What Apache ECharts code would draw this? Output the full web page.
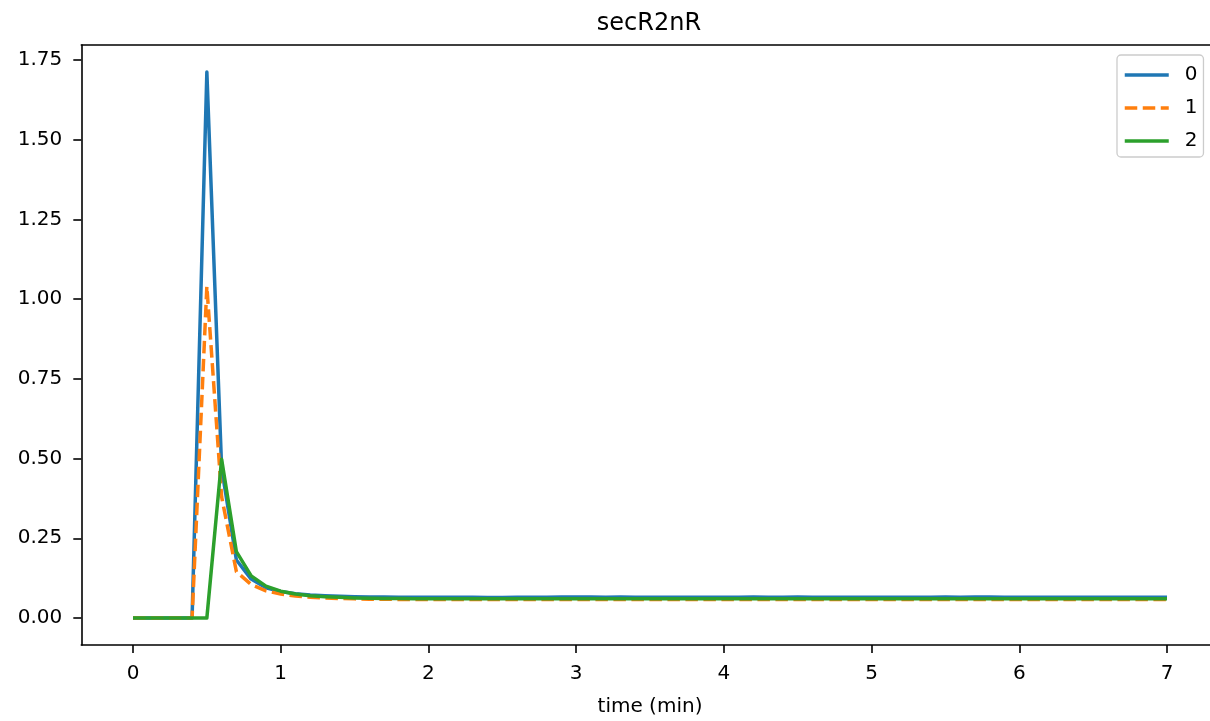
<!DOCTYPE html>
<html><head><meta charset="utf-8">
<script src="https://cdn.jsdelivr.net/npm/echarts@6/dist/echarts.min.js"></script>
<style>html,body{margin:0;padding:0;background:#fff}#c{width:1210px;height:721px}</style>
</head><body><div id="c"></div>
<script>
const chartTitle = 'secR2nR';
const xName = 'time (min)';
const seriesNames = ['0', '1', '2'];
const times = [0.0,0.1,0.2,0.3,0.4,0.5,0.6,0.7,0.8,0.9,
  1.0,1.1,1.2,1.3,1.4,1.5,1.6,1.7,1.8,1.9,
  2.0,2.1,2.2,2.3,2.4,2.5,2.6,2.7,2.8,2.9,
  3.0,3.1,3.2,3.3,3.4,3.5,3.6,3.7,3.8,3.9,
  4.0,4.1,4.2,4.3,4.4,4.5,4.6,4.7,4.8,4.9,
  5.0,5.1,5.2,5.3,5.4,5.5,5.6,5.7,5.8,5.9,
  6.0,6.1,6.2,6.3,6.4,6.5,6.6,6.7,6.8,6.9,
  7.0];
const s0 = [0,0,0,0,0,1.712,0.47,0.182,0.122,0.095,
  0.083,0.076,0.072,0.070,0.068,0.067,0.066,0.066,0.065,0.065,
  0.065,0.065,0.065,0.065,0.064,0.064,0.065,0.065,0.065,0.066,
  0.066,0.066,0.065,0.066,0.065,0.065,0.065,0.065,0.065,0.065,
  0.065,0.065,0.066,0.065,0.065,0.066,0.065,0.065,0.065,0.065,
  0.065,0.065,0.065,0.065,0.065,0.066,0.065,0.066,0.066,0.065,
  0.065,0.065,0.065,0.065,0.065,0.065,0.065,0.065,0.065,0.065,
  0.065];
const s1 = [0,0,0,0,0,1.04,0.38,0.145,0.105,0.085,
  0.075,0.069,0.065,0.063,0.061,0.060,0.059,0.059,0.058,0.058,
  0.058,0.058,0.058,0.058,0.058,0.058,0.058,0.058,0.058,0.058,
  0.058,0.058,0.058,0.058,0.058,0.058,0.058,0.058,0.058,0.058,
  0.058,0.058,0.058,0.058,0.058,0.058,0.058,0.058,0.058,0.058,
  0.058,0.058,0.058,0.058,0.058,0.058,0.058,0.058,0.058,0.058,
  0.058,0.058,0.058,0.058,0.058,0.058,0.058,0.058,0.058,0.058,
  0.058];
const s2 = [0,0,0,0,0,0,0.498,0.208,0.132,0.100,
  0.084,0.075,0.070,0.067,0.065,0.063,0.062,0.061,0.061,0.060,
  0.060,0.060,0.060,0.060,0.060,0.060,0.060,0.060,0.060,0.060,
  0.060,0.060,0.060,0.060,0.060,0.060,0.060,0.060,0.060,0.060,
  0.060,0.060,0.060,0.060,0.060,0.060,0.060,0.060,0.060,0.060,
  0.060,0.060,0.060,0.060,0.060,0.060,0.060,0.060,0.060,0.060,
  0.060,0.060,0.060,0.060,0.060,0.060,0.060,0.060,0.060,0.060,
  0.060];
const xTicks = [0,1,2,3,4,5,6,7];
const yTicks = [0,0.25,0.5,0.75,1.0,1.25,1.5,1.75];

const colors = ['#1f77b4', '#ff7f0e', '#2ca02c'];
const dashes = ['solid', [12.5, 5.5], 'solid'];
const allSeries = [s0, s1, s2];
const font = 'DejaVu Sans';
const LW = 3.5;

const chart = echarts.init(document.getElementById('c'), null, {renderer: 'canvas'});
chart.setOption({
  animation: false,
  backgroundColor: '#ffffff',
  title: {
    text: chartTitle, left: 649, top: 12, textAlign: 'center', padding: 0,
    textStyle: {fontFamily: font, fontSize: 24, fontWeight: 'normal', color: '#000'}
  },
  legend: {
    orient: 'vertical', left: 1117, top: 55, padding: [10, 6, 6, 6],
    itemWidth: 44, itemHeight: 17, itemGap: 13,
    itemStyle: {opacity: 0},
    lineStyle: {width: LW},
    textStyle: {fontFamily: font, fontSize: 20, color: '#000', padding: [0, 0, 0, 11]},
    borderColor: '#cccccc', borderWidth: 1.3, borderRadius: 4,
    backgroundColor: 'rgba(255,255,255,0.8)',
    data: seriesNames
  },
  grid: {left: 81.3, right: -8.7, top: 45, bottom: 76, outerBoundsMode: 'none'},
  xAxis: [{
    type: 'value', min: -0.35, max: 7.35,
    name: xName, nameLocation: 'middle', nameGap: 52,
    nameTextStyle: {fontFamily: font, fontSize: 20, color: '#000'},
    axisLine: {show: true, onZero: false, lineStyle: {color: '#000', width: 1.6}},
    axisTick: {show: true, length: 8, lineStyle: {color: '#000', width: 1.6}, customValues: xTicks},
    axisLabel: {fontFamily: font, fontSize: 20, color: '#000', margin: 19, customValues: xTicks,
      formatter: v => String(v)},
    splitLine: {show: false}
  }, {
    type: 'value', position: 'top', min: -0.35, max: 7.35,
    axisLine: {show: true, onZero: false, lineStyle: {color: '#000', width: 1.6}},
    axisTick: {show: false}, axisLabel: {show: false}, splitLine: {show: false}
  }],
  yAxis: {
    type: 'value', min: -0.0847, max: 1.797,
    axisLine: {show: true, onZero: false, lineStyle: {color: '#000', width: 1.6}},
    axisTick: {show: true, length: 8, lineStyle: {color: '#000', width: 1.6}, customValues: yTicks},
    axisLabel: {fontFamily: font, fontSize: 20, color: '#000', margin: 19, customValues: yTicks,
      formatter: v => v.toFixed(2)},
    splitLine: {show: false}
  },
  series: allSeries.map((vals, i) => ({
    name: seriesNames[i], type: 'line', symbol: 'none', showSymbol: false,
    xAxisIndex: 0,
    data: times.map((t, k) => [t, vals[k]]),
    lineStyle: {color: colors[i], width: LW, type: dashes[i], cap: 'butt', join: 'round'},
    itemStyle: {color: colors[i]},
    z: 2 + i
  }))
});
</script>
</body></html>
